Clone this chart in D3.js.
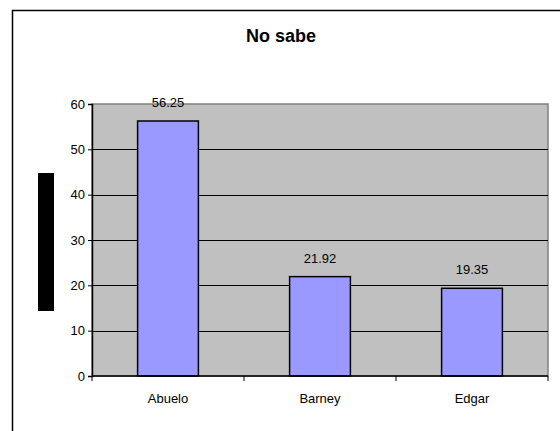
<!DOCTYPE html>
<html>
<head>
<meta charset="utf-8">
<script src="https://cdn.jsdelivr.net/npm/d3@7"></script>
<style>
  html, body { margin: 0; padding: 0; background: #fff; }
  svg { display: block; font-family: "Liberation Sans", Arial, sans-serif; }
</style>
</head>
<body>
<svg id="chart" width="560" height="431"></svg>
<script>
// Data
const categories = ["Abuelo", "Barney", "Edgar"];
const values = [56.25, 21.92, 19.35];
const yTicks = [0, 10, 20, 30, 40, 50, 60];
const title = "No sabe";

const svg = d3.select("#chart");

// Outer chart frame (extends past the right and bottom edges)
svg.append("rect")
  .attr("x", 12.5).attr("y", 10.5)
  .attr("width", 600).attr("height", 500)
  .attr("fill", "#fff").attr("stroke", "#000").attr("stroke-width", 1.5);

const plot = { left: 92, right: 548, top: 104, bottom: 376 };

const x = d3.scaleBand()
  .domain(categories)
  .range([plot.left, plot.right])
  .paddingInner(0.6).paddingOuter(0.3);

const xTickScale = d3.scaleLinear().domain([0, categories.length]).range([plot.left, plot.right]);

const y = d3.scaleLinear().domain([0, 60]).range([plot.bottom, plot.top]);

// Plot area background
svg.append("rect")
  .attr("x", plot.left).attr("y", plot.top)
  .attr("width", plot.right - plot.left).attr("height", plot.bottom - plot.top)
  .attr("fill", "#c0c0c0")
  .attr("stroke", "#808080").attr("stroke-width", 1.5);

// Gridlines
svg.append("g").selectAll("line")
  .data(yTicks.filter(t => t > 0 && t < 60))
  .join("line")
  .attr("x1", plot.left).attr("x2", plot.right)
  .attr("y1", d => Math.round(y(d)) + 0.5).attr("y2", d => Math.round(y(d)) + 0.5)
  .attr("stroke", "#000").attr("stroke-width", 1);

// Bars
svg.append("g").selectAll("rect")
  .data(categories.map((c, i) => ({ c, v: values[i] })))
  .join("rect")
  .attr("x", d => x(d.c))
  .attr("y", d => y(d.v))
  .attr("width", x.bandwidth())
  .attr("height", d => y(0) - y(d.v))
  .attr("fill", "#9999ff")
  .attr("stroke", "#000").attr("stroke-width", 1.5);

// Value labels
svg.append("g").selectAll("text")
  .data(categories.map((c, i) => ({ c, v: values[i] })))
  .join("text")
  .attr("x", d => x(d.c) + x.bandwidth() / 2)
  .attr("y", d => y(d.v) - 14)
  .attr("text-anchor", "middle")
  .attr("font-size", 13)
  .attr("fill", "#000")
  .text(d => d3.format(".2f")(d.v));

// Y axis
const yAxis = d3.axisLeft(y).tickValues(yTicks).tickSize(4).tickPadding(3).tickFormat(d3.format("d"));
const gy = svg.append("g").attr("transform", `translate(${plot.left},0)`).call(yAxis);
gy.select(".domain").attr("stroke", "#000").attr("stroke-width", 1.5);
gy.selectAll(".tick line").attr("stroke", "#000");
gy.selectAll(".tick text").attr("font-size", 13).attr("fill", "#000")
  .attr("font-family", "Liberation Sans, Arial, sans-serif");

// X axis line with ticks at category boundaries
const gx = svg.append("g");
gx.append("line")
  .attr("x1", plot.left).attr("x2", plot.right)
  .attr("y1", plot.bottom).attr("y2", plot.bottom)
  .attr("stroke", "#000").attr("stroke-width", 1.5);
gx.selectAll("line.tick")
  .data(d3.range(categories.length + 1))
  .join("line").attr("class", "tick")
  .attr("x1", d => xTickScale(d)).attr("x2", d => xTickScale(d))
  .attr("y1", plot.bottom).attr("y2", plot.bottom + 5)
  .attr("stroke", "#000");
gx.selectAll("text")
  .data(categories)
  .join("text")
  .attr("x", d => x(d) + x.bandwidth() / 2)
  .attr("y", plot.bottom + 27)
  .attr("text-anchor", "middle")
  .attr("font-size", 13)
  .attr("fill", "#000")
  .text(d => d);

// Y axis title block
svg.append("rect")
  .attr("x", 38).attr("y", 173)
  .attr("width", 16).attr("height", 138)
  .attr("fill", "#000");

// Title
svg.append("text")
  .attr("x", 281).attr("y", 42)
  .attr("text-anchor", "middle")
  .attr("font-size", 18).attr("font-weight", "bold")
  .attr("fill", "#000")
  .text(title);
</script>
</body>
</html>
